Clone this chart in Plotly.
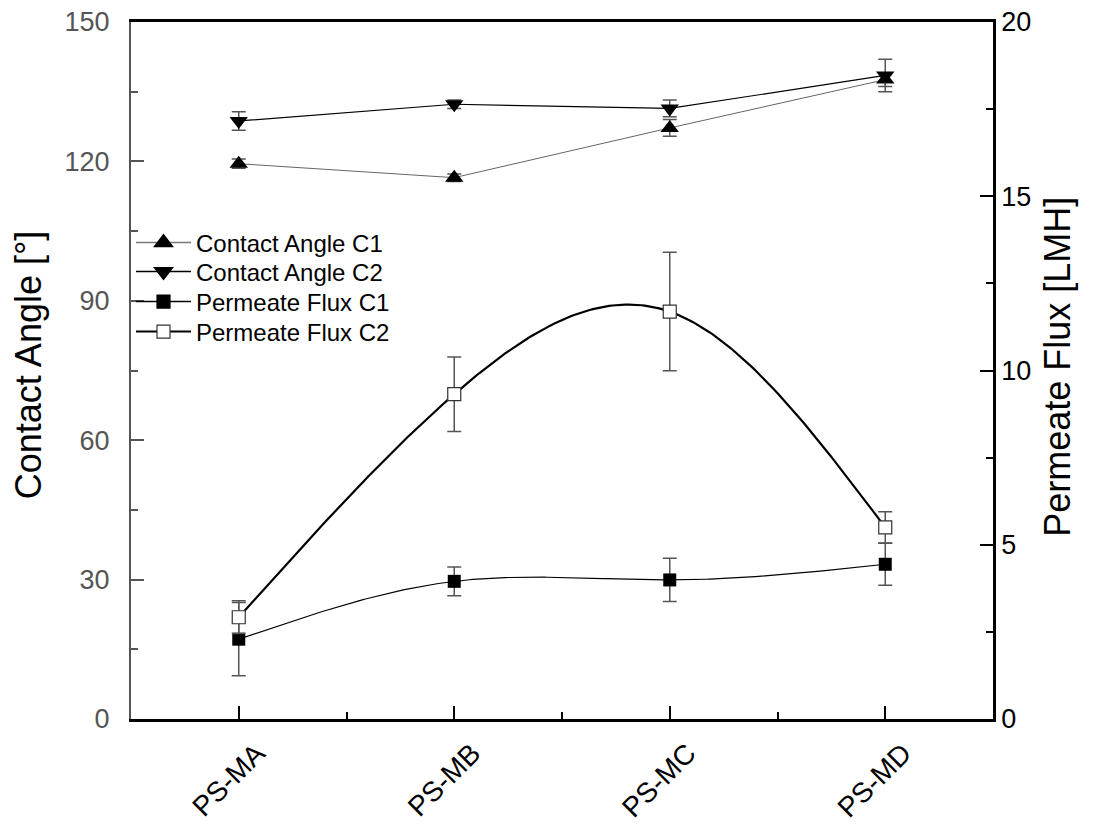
import numpy as np
import plotly.graph_objects as go

categories = ["PS-MA", "PS-MB", "PS-MC", "PS-MD"]
xpos = [0, 1, 2, 3]

ca_c1 = [119.5, 116.5, 127.2, 137.6]
ca_c1_err = [1.0, 0.8, 1.8, 1.5]
ca_c2 = [128.7, 132.3, 131.4, 138.5]
ca_c2_err = [2.0, 0.9, 1.8, 3.5]
flux_c1 = [2.29, 3.95, 3.99, 4.44]
flux_c1_err = [1.05, 0.41, 0.62, 0.60]
flux_c2 = [2.92, 9.32, 11.69, 5.50]
flux_c2_err = [0.47, 1.07, 1.70, 0.45]

left_ticks = [0, 30, 60, 90, 120, 150]
right_ticks = [0, 5, 10, 15, 20]


def natural_spline(xs, ys, n=200):
    xs = np.asarray(xs, float)
    ys = np.asarray(ys, float)
    k = len(xs)
    h = np.diff(xs)
    A = np.zeros((k, k))
    b = np.zeros(k)
    A[0, 0] = 1
    A[-1, -1] = 1
    for i in range(1, k - 1):
        A[i, i - 1] = h[i - 1]
        A[i, i] = 2 * (h[i - 1] + h[i])
        A[i, i + 1] = h[i]
        b[i] = 6 * ((ys[i + 1] - ys[i]) / h[i] - (ys[i] - ys[i - 1]) / h[i - 1])
    M = np.linalg.solve(A, b)
    xf = np.linspace(xs[0], xs[-1], n)
    yf = np.zeros_like(xf)
    for j, x in enumerate(xf):
        i = min(np.searchsorted(xs, x, side="right") - 1, k - 2)
        t0 = xs[i + 1] - x
        t1 = x - xs[i]
        hi = h[i]
        yf[j] = (M[i] * t0 ** 3 / (6 * hi) + M[i + 1] * t1 ** 3 / (6 * hi)
                 + (ys[i] / hi - M[i] * hi / 6) * t0
                 + (ys[i + 1] / hi - M[i + 1] * hi / 6) * t1)
    return xf, yf


FONT = "Liberation Sans, Arial, sans-serif"
ERR = "#555555"

fig = go.Figure()

fig.add_trace(go.Scatter(
    x=xpos, y=ca_c1, mode="lines+markers", showlegend=False,
    line=dict(color="#666666", width=1),
    marker=dict(symbol="triangle-up", size=16, color="black"),
    error_y=dict(type="data", array=ca_c1_err, color=ERR, thickness=1.5, width=7),
))
fig.add_trace(go.Scatter(
    x=xpos, y=ca_c2, mode="lines+markers", showlegend=False,
    line=dict(color="black", width=1.2),
    marker=dict(symbol="triangle-down", size=16, color="black"),
    error_y=dict(type="data", array=ca_c2_err, color=ERR, thickness=1.5, width=7),
))

sx1, sy1 = natural_spline(xpos, flux_c1)
sx2, sy2 = natural_spline(xpos, flux_c2)
fig.add_trace(go.Scatter(x=sx1, y=sy1, mode="lines", yaxis="y2", showlegend=False,
                         line=dict(color="black", width=1.2), hoverinfo="skip"))
fig.add_trace(go.Scatter(x=sx2, y=sy2, mode="lines", yaxis="y2", showlegend=False,
                         line=dict(color="black", width=2.2), hoverinfo="skip"))
fig.add_trace(go.Scatter(
    x=xpos, y=flux_c1, mode="markers", yaxis="y2", showlegend=False,
    marker=dict(symbol="square", size=13, color="black"),
    error_y=dict(type="data", array=flux_c1_err, color=ERR, thickness=1.5, width=7),
))
fig.add_trace(go.Scatter(
    x=xpos, y=flux_c2, mode="markers", yaxis="y2", showlegend=False,
    marker=dict(symbol="square", size=13, color="white", line=dict(color="#333333", width=1.2)),
    error_y=dict(type="data", array=flux_c2_err, color=ERR, thickness=1.5, width=7),
))

legend_items = [
    ("Contact Angle C1", "triangle-up", "black", "#777777", 1.5, 16, "black"),
    ("Contact Angle C2", "triangle-down", "black", "black", 1.5, 16, "black"),
    ("Permeate Flux C1", "square", "black", "black", 1.5, 13, "black"),
    ("Permeate Flux C2", "square", "white", "black", 2, 13, "#333333"),
]
legend_names = ["legend", "legend2", "legend3", "legend4"]
for (name, sym, fill, lc, lw, ms, mlc), lg in zip(legend_items, legend_names):
    fig.add_trace(go.Scatter(
        x=[None], y=[None], mode="lines+markers", name=name, legend=lg,
        line=dict(color=lc, width=lw),
        marker=dict(symbol=sym, size=ms, color=fill, line=dict(color=mlc, width=1.2)),
    ))

legend_centers_px = [243, 272, 302, 332]
legend_layouts = {}
for lg, ypx in zip(legend_names, legend_centers_px):
    legend_layouts[lg] = dict(
        x=0.0, y=(719 - ypx) / 697, xanchor="left", yanchor="middle",
        bgcolor="rgba(0,0,0,0)", borderwidth=0,
        font=dict(size=24, color="black", family=FONT),
        itemwidth=55,
    )

fig.update_layout(
    width=1095, height=825,
    margin=dict(l=131, r=102, t=22, b=106, autoexpand=False),
    paper_bgcolor="white", plot_bgcolor="white",
    font=dict(family=FONT, color="black"),
    xaxis=dict(
        range=[-0.5, 3.5], tickvals=xpos, ticktext=categories, tickangle=-45,
        showgrid=False, zeroline=False, showline=True, linecolor="black", linewidth=2.5,
        mirror=True, ticks="inside", ticklen=13, tickwidth=2, tickcolor="black",
        tickfont=dict(size=28, color="black"), ticklabelstandoff=4, ticklabelshift=18,
        minor=dict(tickvals=[0.5, 1.5, 2.5], ticks="inside", ticklen=7, tickwidth=2, tickcolor="black"),
    ),
    yaxis=dict(
        range=[0, 150], tickvals=left_ticks, showgrid=False, zeroline=False,
        showline=True, linecolor="#555555", linewidth=2,
        ticks="inside", ticklen=13, tickwidth=2, tickcolor="#555555",
        tickfont=dict(size=27, color="#555555"), ticklabelstandoff=14,
        minor=dict(dtick=15, ticks="inside", ticklen=7, tickwidth=2, tickcolor="#555555"),
    ),
    yaxis2=dict(
        range=[0, 20], tickvals=right_ticks, overlaying="y", side="right", anchor="x",
        showgrid=False, zeroline=False, showline=True, linecolor="black", linewidth=2.5,
        ticks="inside", ticklen=13, tickwidth=2, tickcolor="black",
        tickfont=dict(size=27, color="black"), ticklabelposition="outside",
        tickprefix="\u00a0",
        minor=dict(dtick=2.5, ticks="inside", ticklen=7, tickwidth=2, tickcolor="black"),
    ),
    annotations=[
        dict(text="Contact Angle [°]", xref="paper", yref="paper", x=-0.118, y=0.508,
             xanchor="center", yanchor="middle", textangle=-90, showarrow=False,
             font=dict(size=36, color="black", family=FONT)),
        dict(text="Permeate Flux [LMH]", xref="paper", yref="paper", x=1.074, y=0.505,
             xanchor="center", yanchor="middle", textangle=-90, showarrow=False,
             font=dict(size=36, color="black", family=FONT)),
    ],
    **legend_layouts,
)

fig.write_html("out.html")
